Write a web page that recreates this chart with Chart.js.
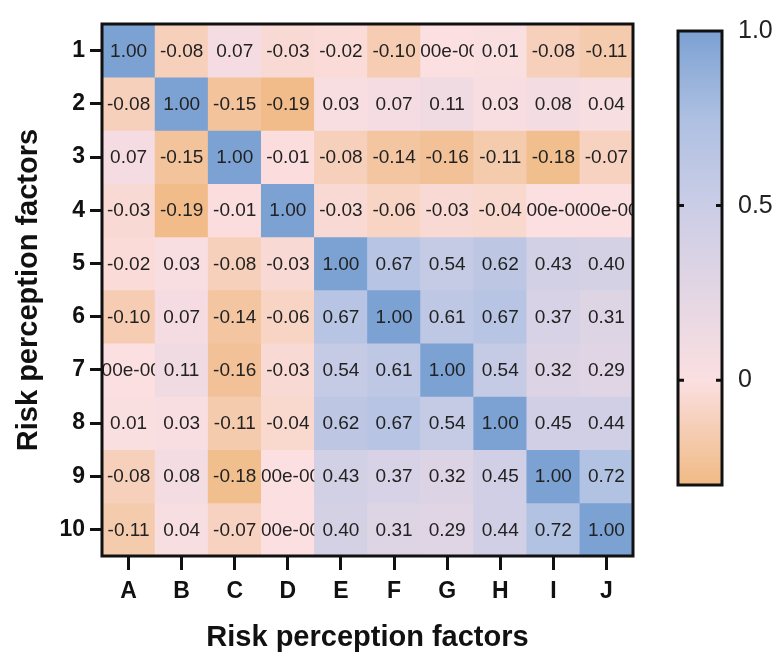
<!DOCTYPE html>
<html>
<head>
<meta charset="utf-8">
<script src="https://cdn.jsdelivr.net/npm/chart.js@4"></script>
<style>
  html, body { margin: 0; padding: 0; background: #fff; }
  #wrap { position: relative; width: 781px; height: 652px; }
  #heat { position: absolute; left: 0; top: 0; }
  #bar { position: absolute; left: 660px; top: 0; }
</style>
</head>
<body>
<div id="wrap">
  <canvas id="heat" width="660" height="652"></canvas>
  <canvas id="bar" width="121" height="652"></canvas>
</div>
<script>
// factors on both axes
const colLabels = ['A', 'B', 'C', 'D', 'E', 'F', 'G', 'H', 'I', 'J'];
const rowLabels = ['1', '2', '3', '4', '5', '6', '7', '8', '9', '10'];

// correlation rows (row 1 .. row 10, columns A .. J)
const r1  = [1.00, -0.08, 0.07, -0.03, -0.02, -0.10, 0.003, 0.01, -0.08, -0.11];
const r2  = [-0.08, 1.00, -0.15, -0.19, 0.03, 0.07, 0.11, 0.03, 0.08, 0.04];
const r3  = [0.07, -0.15, 1.00, -0.01, -0.08, -0.14, -0.16, -0.11, -0.18, -0.07];
const r4  = [-0.03, -0.19, -0.01, 1.00, -0.03, -0.06, -0.03, -0.04, 0.003, 0.003];
const r5  = [-0.02, 0.03, -0.08, -0.03, 1.00, 0.67, 0.54, 0.62, 0.43, 0.40];
const r6  = [-0.10, 0.07, -0.14, -0.06, 0.67, 1.00, 0.61, 0.67, 0.37, 0.31];
const r7  = [0.003, 0.11, -0.16, -0.03, 0.54, 0.61, 1.00, 0.54, 0.32, 0.29];
const r8  = [0.01, 0.03, -0.11, -0.04, 0.62, 0.67, 0.54, 1.00, 0.45, 0.44];
const r9  = [-0.08, 0.08, -0.18, 0.003, 0.43, 0.37, 0.32, 0.45, 1.00, 0.72];
const r10 = [-0.11, 0.04, -0.07, 0.003, 0.40, 0.31, 0.29, 0.44, 0.72, 1.00];
const rows = [r1, r2, r3, r4, r5, r6, r7, r8, r9, r10];

// colour scale
const colorStops = [-0.2, 0, 0.5, 0.75, 1.0];
const colorRGB = [[240, 186, 132], [251, 223, 225], [203, 205, 230], [174, 192, 226], [124, 161, 211]];
const colorbarRange = [-0.3, 1.0];
const colorbarTicks = [0, 0.5, 1.0];

const FONT = 'Arial, "Liberation Sans", Helvetica, sans-serif';

function colorFor(v) {
  if (v <= colorStops[0]) return 'rgb(' + colorRGB[0].join(',') + ')';
  for (let k = 1; k < colorStops.length; k++) {
    if (v <= colorStops[k]) {
      const t = (v - colorStops[k - 1]) / (colorStops[k] - colorStops[k - 1]);
      const a = colorRGB[k - 1], b = colorRGB[k];
      return 'rgb(' + a.map((c, i) => Math.round(c + (b[i] - c) * t)).join(',') + ')';
    }
  }
  return 'rgb(' + colorRGB[colorRGB.length - 1].join(',') + ')';
}

function cellText(v) {
  if (Math.abs(v) < 0.005) {
    // Prism style exponent, gets clipped by the cell
    return v.toExponential(2).replace(/e([+-])(\d)$/, 'e$100$2');
  }
  return v.toFixed(2);
}

const datasets = rows.map((vals, i) => ({
  label: rowLabels[i],
  data: vals.map(() => [i + 0.5, i + 1.5]),
  values: vals,
  backgroundColor: vals.map(colorFor),
  borderWidth: 0,
  grouped: false,
  barPercentage: 1,
  categoryPercentage: 1
}));

const cellLabels = {
  id: 'cellLabels',
  afterDatasetsDraw(chart) {
    const ctx = chart.ctx;
    chart.data.datasets.forEach((ds, di) => {
      chart.getDatasetMeta(di).data.forEach((el, j) => {
        const p = el.getProps(['x', 'y', 'base', 'width'], true);
        const top = Math.min(p.y, p.base), h = Math.abs(p.base - p.y);
        ctx.save();
        ctx.beginPath();
        ctx.rect(p.x - p.width / 2, top, p.width, h);
        ctx.clip();
        ctx.fillStyle = '#222';
        ctx.font = '19px ' + FONT;
        ctx.textAlign = 'center';
        ctx.textBaseline = 'middle';
        ctx.fillText(cellText(ds.values[j]), p.x, top + h / 2 + 1);
        ctx.restore();
      });
    });
  },
  afterDraw(chart) {
    const a = chart.chartArea, ctx = chart.ctx;
    ctx.save();
    ctx.strokeStyle = '#111';
    ctx.lineWidth = 3;
    ctx.strokeRect(a.left, a.top, a.right - a.left, a.bottom - a.top);
    ctx.restore();
  }
};

new Chart(document.getElementById('heat'), {
  type: 'bar',
  data: { labels: colLabels, datasets: datasets },
  plugins: [cellLabels],
  options: {
    responsive: false,
    animation: false,
    layout: { padding: { top: 24, right: 27, left: 0, bottom: 0 } },
    plugins: { legend: { display: false }, tooltip: { enabled: false } },
    scales: {
      x: {
        offset: true,
        afterFit(s) { s.height = 96; },
        grid: { drawOnChartArea: false, offset: false, tickLength: 14, lineWidth: 3, color: '#111' },
        border: { display: false },
        ticks: { color: '#111', padding: 8, font: { family: FONT, size: 23, weight: 'bold' } },
        title: {
          display: true, text: 'Risk perception factors', color: '#111',
          padding: { top: 0, bottom: 0 },
          font: { family: FONT, size: 29, weight: 'bold', lineHeight: 1 }
        }
      },
      y: {
        type: 'linear',
        reverse: true,
        min: 0.5,
        max: 10.5,
        afterFit(s) { s.width = 102; },
        afterBuildTicks(s) { s.ticks = rowLabels.map((l, i) => ({ value: i + 1 })); },
        grid: { drawOnChartArea: false, tickLength: 12, lineWidth: 3, color: '#111' },
        border: { display: false },
        ticks: {
          color: '#111', padding: 5,
          font: { family: FONT, size: 23, weight: 'bold' },
          callback: (v) => rowLabels[Math.round(v) - 1]
        },
        title: {
          display: true, text: 'Risk perception factors', color: '#111',
          padding: { top: 14, bottom: 0 },
          font: { family: FONT, size: 29, weight: 'bold', lineHeight: 1 }
        }
      }
    }
  }
});

// colour bar
const barFrame = {
  id: 'barFrame',
  afterDraw(chart) {
    const a = chart.chartArea, ctx = chart.ctx, y = chart.scales.y;
    ctx.save();
    ctx.strokeStyle = '#111';
    ctx.lineWidth = 3;
    ctx.strokeRect(a.left, a.top, a.right - a.left, a.bottom - a.top);
    ctx.beginPath();
    colorbarTicks.forEach(v => {
      if (v >= colorbarRange[1]) return;
      const py = y.getPixelForValue(v);
      ctx.moveTo(a.left, py); ctx.lineTo(a.left + 6, py);
      ctx.moveTo(a.right - 6, py); ctx.lineTo(a.right, py);
    });
    ctx.stroke();
    ctx.restore();
  }
};

new Chart(document.getElementById('bar'), {
  type: 'bar',
  data: {
    labels: [''],
    datasets: [{
      data: [colorbarRange],
      borderWidth: 0,
      barPercentage: 1,
      categoryPercentage: 1,
      backgroundColor(c) {
        const chart = c.chart, a = chart.chartArea;
        if (!a) return null;
        const y = chart.scales.y;
        const g = chart.ctx.createLinearGradient(0, a.bottom, 0, a.top);
        colorStops.forEach((v, k) => {
          const val = k === 0 ? colorbarRange[0] : v;
          const t = (a.bottom - y.getPixelForValue(val)) / (a.bottom - a.top);
          g.addColorStop(Math.min(1, Math.max(0, t)), 'rgb(' + colorRGB[k].join(',') + ')');
        });
        return g;
      }
    }]
  },
  plugins: [barFrame],
  options: {
    responsive: false,
    animation: false,
    layout: { padding: { top: 21, bottom: 167, left: 18, right: 0 } },
    plugins: { legend: { display: false }, tooltip: { enabled: false } },
    scales: {
      x: { display: false },
      y: {
        position: 'right',
        min: colorbarRange[0],
        max: colorbarRange[1],
        afterFit(s) { s.width = 59; },
        afterBuildTicks(s) { s.ticks = colorbarTicks.map(v => ({ value: v })); },
        grid: { drawOnChartArea: false, drawTicks: false },
        border: { display: false },
        ticks: {
          color: '#222', padding: 16,
          font: { family: FONT, size: 25 },
          callback: (v) => v === 0 ? '0' : v.toFixed(1)
        }
      }
    }
  }
});
</script>
</body>
</html>
